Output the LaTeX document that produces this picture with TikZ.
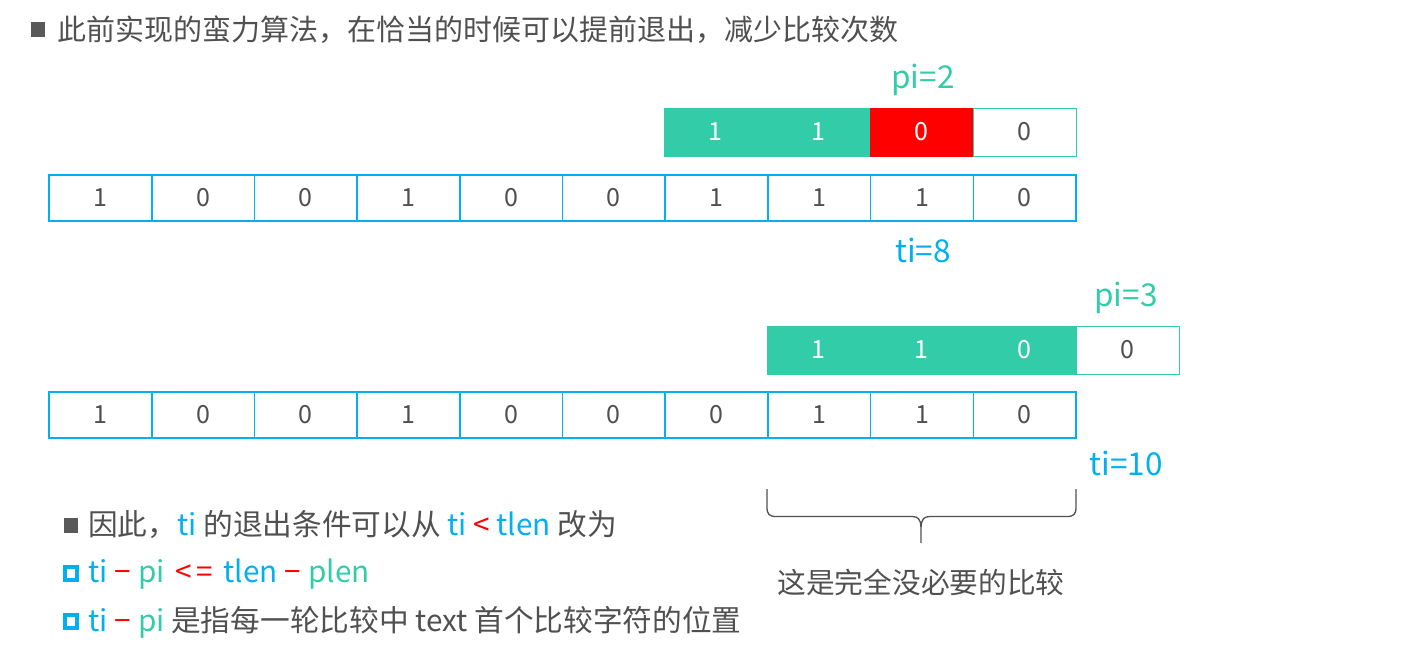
\documentclass[tikz,border=0pt]{standalone}
\usepackage{fontspec}
\setmainfont{Noto Sans CJK SC}
\definecolor{tgreen}{RGB}{51,204,168}
\definecolor{tblue}{RGB}{0,176,240}
\definecolor{tred}{RGB}{255,0,0}
\definecolor{tgray}{RGB}{80,80,80}
\definecolor{bgray}{RGB}{89,89,89}
\newcommand{\gapA}{\hspace{7pt}}
\newcommand{\gapB}{\hspace{10.5pt}}
\begin{document}
\begin{tikzpicture}[x=1pt,y=-1pt,
  cell/.style={draw=tblue, line width=1.6pt, minimum width=102.7pt, minimum height=46pt, inner sep=0pt, text=tgray, font=\fontsize{25}{25}\selectfont},
  pcell/.style={draw=tgreen, line width=1pt, minimum width=103pt, minimum height=48pt, inner sep=0pt, font=\fontsize{25}{25}\selectfont},
  pfill/.style={pcell, fill=tgreen, text=white},
  pred/.style={pcell, fill=tred, draw=tred, text=white},
  pwhite/.style={pcell, fill=white, text=tgray},
  lbl/.style={inner sep=0pt, font=\fontsize{31.5}{31.5}\selectfont},
  line/.style={anchor=west, inner sep=0pt, text=tgray, font=\fontsize{29.7}{29.7}\selectfont},
  sqbullet/.style={fill=bgray, draw=none},
  hbullet/.style={draw=tblue, line width=4pt},
  bracestyle/.style={draw=tgray, line width=1.3pt, line join=round},
]
\useasboundingbox (0,0) rectangle (1413,670);

% title
\fill[sqbullet] (31,22) rectangle (45,37);
\node[line, font=\fontsize{29}{29}\selectfont] (title) at (57,30) {此前实现的蛮力算法，在恰当的时候可以提前退出，减少比较次数};

% pattern 1
\node[pfill]  (p10) at ({664+103*0.5},132) {1};
\node[pfill]  (p11) at ({664+103*1.5},132) {1};
\node[pred]   (p12) at ({664+103*2.5},132) {0};
\node[pwhite] (p13) at ({664+103*3.5},132) {0};
\node[lbl, text=tgreen] (pi2) at (923,80) {pi=2};

% text row 1
\foreach \v [count=\i from 0] in {1,0,0,1,0,0,1,1,1,0}
  \node[cell] (a\i) at ({49+102.7*(\i+0.5)},198) {\v};
\node[lbl, text=tblue] (ti8) at (923,250) {ti=8};

% pattern 2
\node[pfill]  (p20) at ({767+103*0.5},350) {1};
\node[pfill]  (p21) at ({767+103*1.5},350) {1};
\node[pfill]  (p22) at ({767+103*2.5},350) {0};
\node[pwhite] (p23) at ({767+103*3.5},350) {0};
\node[lbl, text=tgreen] (pi3) at (1126,298) {pi=3};

% text row 2
\foreach \v [count=\i from 0] in {1,0,0,1,0,0,0,1,1,0}
  \node[cell] (b\i) at ({49+102.7*(\i+0.5)},415) {\v};
\node[lbl, text=tblue] (ti10) at (1126,463) {ti=10};

% brace
\coordinate (br1) at (767,489);
\coordinate (br2) at (1076,489);
\coordinate (brtip) at (921,543);
\draw[bracestyle] (br1) -- (767,507) .. controls (767,514) and (769,516.5) .. (776,516.5)
  -- (912,516.5) .. controls (918,516.5) and (920.5,519) .. (921,527) -- (brtip);
\draw[bracestyle] (br2) -- (1076,507) .. controls (1076,514) and (1074,516.5) .. (1067,516.5)
  -- (930,516.5) .. controls (924,516.5) and (921.5,519) .. (921,527);
\node[lbl, text=tgray, font=\fontsize{28.7}{28.7}\selectfont] (note) at (921,582) {这是完全没必要的比较};

% bottom lines
\fill[sqbullet] (64,518) rectangle (78,533);
\node[line] (l1) at (88,525) {因此，\textcolor{tblue}{ti} 的退出条件可以从 \textcolor{tblue}{ti} \textcolor{tred}{<} \textcolor{tblue}{tlen} 改为};
\draw[hbullet] (65,566.5) rectangle (77,580);
\node[line] (l2) at (88,574) {\textcolor{tblue}{ti}\gapA\textcolor{tred}{−}\gapA\textcolor{tgreen}{pi}\gapB\textcolor{tred}{<\,=}\gapB\textcolor{tblue}{tlen}\gapA\textcolor{tred}{−}\gapA\textcolor{tgreen}{plen}};
\draw[hbullet] (65,614.5) rectangle (77,628);
\node[line] (l3) at (88,622) {\textcolor{tblue}{ti}\gapA\textcolor{tred}{−}\gapA\textcolor{tgreen}{pi} 是指每一轮比较中 text 首个比较字符的位置};
\end{tikzpicture}
\end{document}
